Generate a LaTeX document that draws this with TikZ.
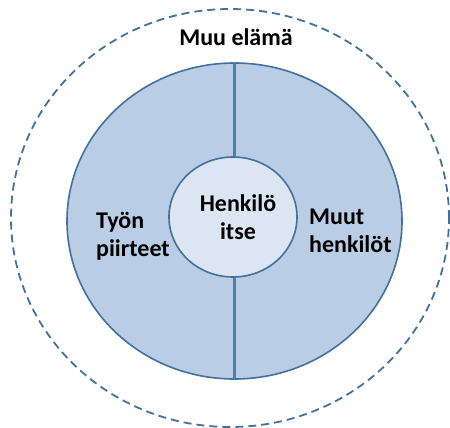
\documentclass[tikz,border=0pt]{standalone}
\usepackage{fontspec}
\setmainfont{Carlito}
\usetikzlibrary{shapes.geometric}
\definecolor{ringfill}{HTML}{B9CDE5}
\definecolor{corefill}{HTML}{DCE6F2}
\definecolor{edge}{HTML}{41719C}
\definecolor{divider}{HTML}{4A7EBB}
\tikzset{
  lbl/.style={font=\bfseries\fontsize{24}{28}\selectfont, inner sep=0pt, text=black},
  circ/.style={draw=edge, line width=1.6pt, ellipse, inner sep=0pt},
}
\begin{document}
\begin{tikzpicture}[x=1pt,y=-1pt]
\useasboundingbox (0,0) rectangle (450,428);
\node[circ, line width=1.8pt, dash pattern=on 8pt off 5pt, minimum width=438pt, minimum height=418pt] (outer) at (230,218) {};
\node[circ, fill=ringfill, minimum width=335pt, minimum height=316pt] (ring) at (234.5,221) {};
\node[circ, fill=corefill, minimum width=128pt, minimum height=120pt] (core) at (233,217) {};
\draw[divider, line width=2.4pt] (core.north -| ring.north) -- (ring.north);
\draw[divider, line width=2.4pt] (core.south -| ring.south) -- (ring.south);
\node[lbl, anchor=base] (muu) at (236,46) {Muu elämä};
\node[lbl, anchor=base] (henk1) at (238,211) {Henkilö};
\node[lbl, anchor=base] (henk2) at (238,239) {itse};
\node[lbl, anchor=base west] (tyon1) at (96,228) {Työn};
\node[lbl, anchor=base west] (tyon2) at (96,256) {piirteet};
\node[lbl, anchor=base west] (muut1) at (309,224) {Muut};
\node[lbl, anchor=base west] (muut2) at (309,252) {henkilöt};
\end{tikzpicture}
\end{document}
